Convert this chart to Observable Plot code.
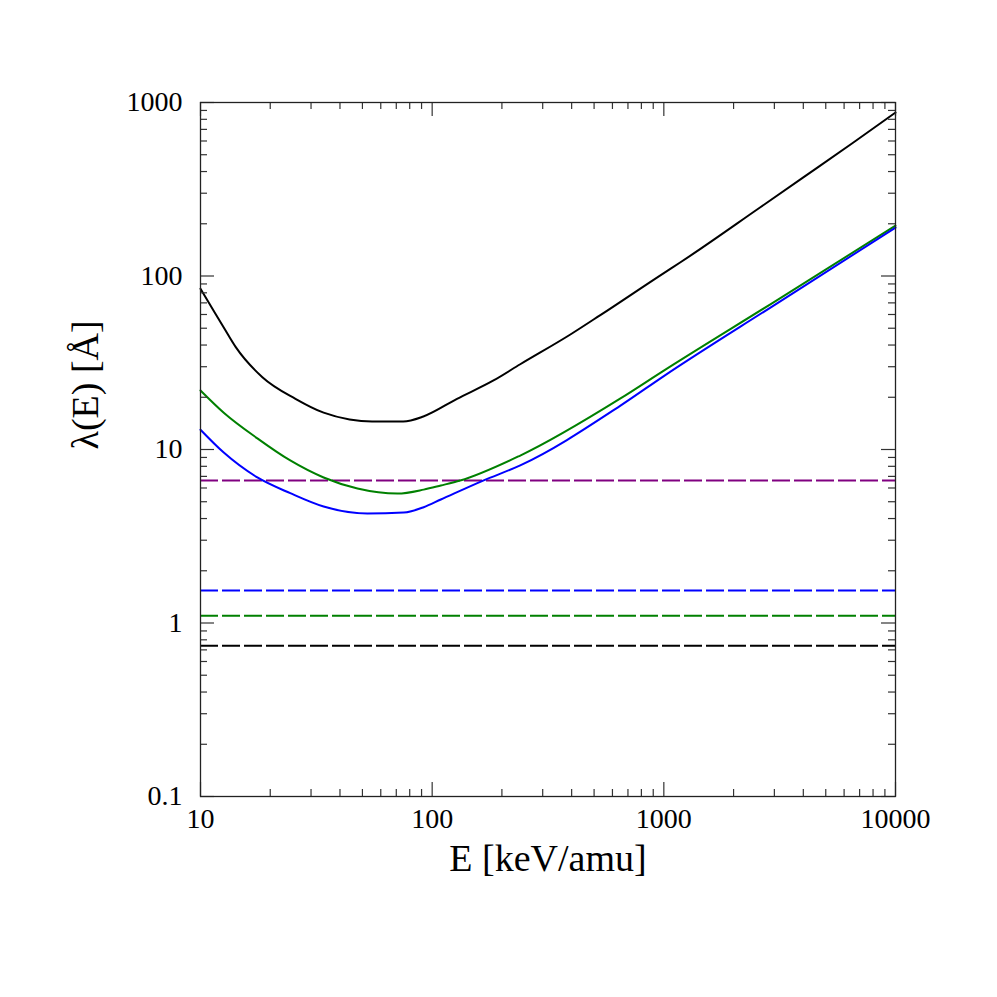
<!DOCTYPE html>
<html>
<head>
<meta charset="utf-8">
<script src="https://cdn.jsdelivr.net/npm/d3@7"></script>
<script src="https://cdn.jsdelivr.net/npm/@observablehq/plot@0.6"></script>
<style>
  html, body { margin: 0; padding: 0; background: #fff; }
  #chart svg { display: block; }
</style>
</head>
<body>
<div id="chart"></div>
<script>
// Solid curves: energy E [keV/amu] and lambda(E) [Å]
const blackE = [10, 11.6, 12.6, 14.2, 18.5, 25.7, 34, 44, 55, 75, 91.6, 128, 184, 240, 395, 532, 1000, 1180, 2610, 4000, 6580, 10000];
const blackL = [84.4, 60.6, 50.5, 38.9, 26.1, 19.6, 16.3, 14.9, 14.5, 14.5, 15.5, 19.6, 25, 31, 46, 59.5, 104, 120, 249, 370, 588, 875];

const greenE = [10, 12.6, 17.6, 24.4, 34, 47.6, 70.8, 91.9, 109, 132, 240, 650, 1000, 3000, 10000];
const greenL = [21.9, 16.3, 11.6, 8.65, 6.9, 5.96, 5.57, 5.87, 6.2, 6.62, 9.23, 19.7, 28.5, 71, 195];

const blueE = [10, 12.6, 17.6, 24.4, 34, 52.5, 75.4, 91.9, 109, 166, 240, 650, 1000, 3000, 10000];
const blueL = [13.0, 9.6, 6.9, 5.6, 4.69, 4.28, 4.33, 4.65, 5.15, 6.62, 8.1, 17.9, 26.5, 68, 190];

// Dashed constant levels
const dashNames = ["purple", "blue", "green", "black"];
const dashLevels = [6.62, 1.54, 1.10, 0.74];
const dashColors = ["#800080", "#0000ff", "#008000", "#000000"];

// Ticks
const xMajor = [10, 100, 1000, 10000];
const xMinor = [20, 30, 40, 50, 60, 70, 80, 90, 200, 300, 400, 500, 600, 700, 800, 900, 2000, 3000, 4000, 5000, 6000, 7000, 8000, 9000];
const yMajor = [0.1, 1, 10, 100, 1000];
const yMinor = [0.2, 0.3, 0.4, 0.5, 0.6, 0.7, 0.8, 0.9, 2, 3, 4, 5, 6, 7, 8, 9, 20, 30, 40, 50, 60, 70, 80, 90, 200, 300, 400, 500, 600, 700, 800, 900];
const xTickLabels = ["10", "100", "1000", "10000"];
const yTickLabels = ["0.1", "1", "10", "100", "1000"];

const W = 997, H = 997, mL = 200, mR = 102, mT = 102, mB = 201;
const fw = W - mL - mR, fh = H - mT - mB;
const majLen = 14, minLen = 7;

const toRows = (E, L) => E.map((e, i) => ({E: e, L: L[i]}));
const black = toRows(blackE, blackL);
const green = toRows(greenE, greenL);
const blue = toRows(blueE, blueL);
const dashes = dashNames.map((n, i) => ({name: n, v: dashLevels[i], c: dashColors[i]}));
const xLab = new Map(xMajor.map((v, i) => [v, xTickLabels[i]]));
const yLab = new Map(yMajor.map((v, i) => [v, yTickLabels[i]]));

const font = "'Liberation Serif', 'Times New Roman', serif";
const tk = {stroke: "#333", strokeWidth: 1.2};

const chart = Plot.plot({
  width: W, height: H,
  marginLeft: mL, marginRight: mR, marginTop: mT, marginBottom: mB,
  style: {fontFamily: font, background: "#fff", color: "#000"},
  x: {type: "log", domain: [10, 10000], axis: null},
  y: {type: "log", domain: [0.1, 1000], axis: null},
  marks: [
    Plot.ruleY(dashes, {y: "v", stroke: "c", strokeWidth: 2, strokeDasharray: "18,4"}),
    Plot.line(black, {x: "E", y: "L", stroke: "#000", strokeWidth: 2, curve: "monotone-x"}),
    Plot.line(green, {x: "E", y: "L", stroke: "#008000", strokeWidth: 2, curve: "monotone-x"}),
    Plot.line(blue, {x: "E", y: "L", stroke: "#0000ff", strokeWidth: 2, curve: "monotone-x"}),
    Plot.tickY(yMajor, {y: d => d, insetRight: fw - majLen, ...tk}),
    Plot.tickY(yMinor, {y: d => d, insetRight: fw - minLen, ...tk}),
    Plot.tickY(yMajor, {y: d => d, insetLeft: fw - majLen, ...tk}),
    Plot.tickY(yMinor, {y: d => d, insetLeft: fw - minLen, ...tk}),
    Plot.tickX(xMajor, {x: d => d, insetTop: fh - majLen, ...tk}),
    Plot.tickX(xMinor, {x: d => d, insetTop: fh - minLen, ...tk}),
    Plot.tickX(xMajor, {x: d => d, insetBottom: fh - majLen, ...tk}),
    Plot.tickX(xMinor, {x: d => d, insetBottom: fh - minLen, ...tk}),
    Plot.frame({stroke: "#222", strokeWidth: 1.3}),
    Plot.text(xMajor, {x: d => d, frameAnchor: "bottom", dy: 31, fontSize: 28, text: d => xLab.get(d), fill: "#000"}),
    Plot.text(yMajor, {y: d => d, frameAnchor: "left", dx: -18, textAnchor: "end", fontSize: 28, text: d => yLab.get(d), fill: "#000"}),
    Plot.text(["E [keV/amu]"], {frameAnchor: "bottom", dy: 74, fontSize: 38, text: d => d, fill: "#000"}),
    Plot.text(["λ(E) [Å]"], {frameAnchor: "left", dx: -115, rotate: -90, fontSize: 38, text: d => d, fill: "#000"})
  ]
});
document.getElementById("chart").appendChild(chart);
</script>
</body>
</html>
